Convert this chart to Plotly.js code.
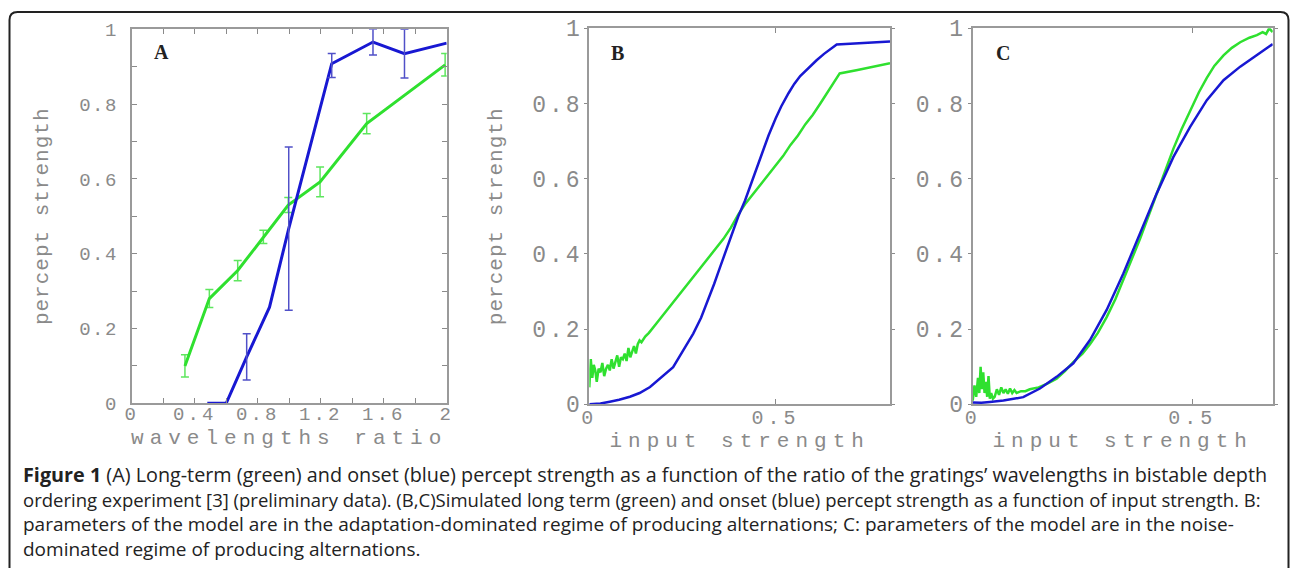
<!DOCTYPE html>
<html>
<head>
<meta charset="utf-8">
<script src="https://cdn.plot.ly/plotly-3.0.1.min.js"></script>
<style>
  html, body { margin: 0; padding: 0; background: #fff; }
  #chart { width: 1290px; height: 568px; }
  .xtick text { letter-spacing: 3px; }
  .ytick text { letter-spacing: 1.5px; }
  .y2tick text, .y3tick text { letter-spacing: 3px; }
  .x2tick text, .x3tick text { letter-spacing: 4px; }
  .g-xtitle text, .g-x2title text, .g-x3title text { letter-spacing: 6px; }
  .g-ytitle text, .g-y2title text { letter-spacing: 1px; }
</style>
</head>
<body>
<div id="chart"></div>
<script>
// ---------------- Panel A: wavelengths ratio (experiment) ----------------
const aGreenX   = [0.338, 0.493, 0.673, 0.836, 0.994, 1.196, 1.492, 1.99];
const aGreenY   = [0.100, 0.280, 0.355, 0.445, 0.530, 0.592, 0.748, 0.905];
const aGreenErr = [0.030, 0.024, 0.027, 0.018, 0.020, 0.040, 0.027, 0.030];

const aBlueX    = [0.48, 0.60, 0.730, 0.875, 0.997, 1.27, 1.532, 1.732, 2.0];
const aBlueY    = [0.0, 0.0, 0.124, 0.257, 0.467, 0.908, 0.966, 0.935, 0.963];
const aBlueErrX = [0.730, 0.997, 1.27, 1.532, 1.732];
const aBlueErrY = [0.124, 0.467, 0.903, 0.966, 0.935];
const aBlueErr  = [0.062, 0.218, 0.032, 0.035, 0.065];

const aXTicks  = [0, 0.2, 0.4, 0.6, 0.8, 1.0, 1.2, 1.4, 1.6, 1.8, 2.0];
const aXLabels = ["0", "", "0.4", "", "0.8", "", "1.2", "", "1.6", "", "2"];
const yTicksA  = [0, 0.1, 0.2, 0.3, 0.4, 0.5, 0.6, 0.7, 0.8, 0.9, 1.0];
const yLabelsA = ["0", "", "0.2", "", "0.4", "", "0.6", "", "0.8", "", "1"];

// ---------------- Panel B: adaptation-dominated ----------------
const bGreenX = [0, 0.004, 0.008, 0.012, 0.016, 0.02, 0.025, 0.03, 0.035, 0.04, 0.045, 0.05, 0.055, 0.06,
                 0.065, 0.07, 0.075, 0.08, 0.085, 0.09, 0.095, 0.10, 0.105, 0.11, 0.115, 0.12, 0.125, 0.13,
                 0.135, 0.14, 0.15, 0.16, 0.18, 0.20, 0.22, 0.24, 0.26, 0.28, 0.30, 0.32, 0.34, 0.36, 0.38,
                 0.40, 0.42, 0.44, 0.46, 0.48, 0.50, 0.52, 0.54, 0.56, 0.58, 0.60, 0.62, 0.64, 0.66, 0.672,
                 0.72, 0.76, 0.807];
const bGreenY = [0.045, 0.12, 0.07, 0.105, 0.09, 0.06, 0.095, 0.085, 0.11, 0.075, 0.095, 0.105, 0.09, 0.12,
                 0.095, 0.11, 0.13, 0.10, 0.125, 0.12, 0.135, 0.115, 0.15, 0.125, 0.14, 0.155, 0.135, 0.16,
                 0.17, 0.165, 0.18, 0.19, 0.215, 0.24, 0.265, 0.29, 0.315, 0.34, 0.365, 0.39, 0.415, 0.44, 0.47,
                 0.505, 0.535, 0.56, 0.585, 0.61, 0.635, 0.66, 0.69, 0.715, 0.745, 0.77, 0.80, 0.83, 0.86, 0.88,
                 0.889, 0.897, 0.907];
const bBlueX = [0, 0.03, 0.055, 0.08, 0.109, 0.135, 0.163, 0.19, 0.225, 0.25, 0.279, 0.30, 0.319, 0.335, 0.351,
                0.367, 0.382, 0.40, 0.418, 0.432, 0.445, 0.463, 0.481, 0.50, 0.515, 0.535, 0.55, 0.566, 0.59,
                0.61, 0.63, 0.655, 0.664, 0.70, 0.75, 0.807];
const bBlueY = [0, 0.002, 0.007, 0.012, 0.02, 0.03, 0.046, 0.068, 0.099, 0.14, 0.188, 0.23, 0.276, 0.32, 0.365,
                0.41, 0.453, 0.50, 0.542, 0.58, 0.615, 0.665, 0.715, 0.76, 0.792, 0.828, 0.852, 0.873, 0.897,
                0.915, 0.932, 0.95, 0.957, 0.959, 0.962, 0.965];

// ---------------- Panel C: noise-dominated ----------------
const cGreenX = [0, 0.004, 0.008, 0.012, 0.015, 0.018, 0.021, 0.024, 0.027, 0.030, 0.033, 0.036, 0.039, 0.042,
                 0.046, 0.05, 0.055, 0.06, 0.065, 0.07, 0.075, 0.08, 0.085, 0.09, 0.095, 0.10, 0.11, 0.12, 0.13,
                 0.15, 0.17, 0.191, 0.21, 0.229, 0.25, 0.267, 0.285, 0.305, 0.325, 0.343, 0.36, 0.381, 0.40,
                 0.419, 0.44, 0.457, 0.475, 0.495, 0.515, 0.533, 0.55, 0.571, 0.59, 0.609, 0.63, 0.647, 0.66,
                 0.668, 0.675, 0.683];
const cGreenY = [0.01, 0.05, 0.02, 0.07, 0.03, 0.10, 0.04, 0.085, 0.03, 0.06, 0.02, 0.075, 0.015, 0.03,
                 0.015, 0.02, 0.04, 0.025, 0.045, 0.03, 0.04, 0.028, 0.042, 0.03, 0.038, 0.03, 0.035, 0.035, 0.04,
                 0.045, 0.055, 0.068, 0.088, 0.112, 0.135, 0.16, 0.19, 0.232, 0.28, 0.33, 0.38, 0.44, 0.50,
                 0.56, 0.625, 0.68, 0.73, 0.78, 0.83, 0.868, 0.90, 0.928, 0.948, 0.963, 0.975, 0.982, 0.99,
                 0.985, 1.0, 0.99];
const cBlueX = [0, 0.02, 0.039, 0.07, 0.115, 0.153, 0.191, 0.229, 0.267, 0.305, 0.343, 0.381, 0.419, 0.457,
                0.495, 0.533, 0.571, 0.609, 0.647, 0.683];
const cBlueY = [0.005, 0.004, 0.006, 0.01, 0.019, 0.042, 0.073, 0.109, 0.171, 0.251, 0.348, 0.455, 0.561, 0.658,
                0.738, 0.809, 0.862, 0.898, 0.929, 0.958];

const bcXTicks  = [0, 0.5];
const bcXLabels = ["0", "0.5"];
const bcYTicks  = [0, 0.2, 0.4, 0.6, 0.8, 1.0];
const bcYLabels = ["0", "0.2", "0.4", "0.6", "0.8", "1"];

const panelLetters = ["A", "B", "C"];
const xTitles = ["wavelengths ratio", "input strength", "input strength"];
const yTitle  = "percept strength";
const captionLines = [
  "<b>Figure 1</b> (A) Long-term (green) and onset (blue) percept strength as a function of the ratio of the gratings’ wavelengths in bistable depth",
  "ordering experiment [3] (preliminary data). (B,C)Simulated long term (green) and onset (blue) percept strength as a function of input strength. B:",
  "parameters of the model are in the adaptation-dominated regime of producing alternations; C: parameters of the model are in the noise-",
  "dominated regime of producing alternations."
];

// ---------------- styling ----------------
const W = 1290, H = 568;
const px = v => v / W;
const py = v => 1 - v / H;
const GREEN = "#2fe02f";
const BLUE = "#1818d2";
const GRAY = "#8a8a8a";
const MONO = "Liberation Mono, Courier New, monospace";
const tickA = { family: MONO, size: 19, color: GRAY };
const tickBC = { family: MONO, size: 23, color: GRAY };
const tickBCx = { family: MONO, size: 20, color: GRAY };
const monoTitle = { family: MONO, size: 21, color: GRAY };

function axisBase(extra) {
  return Object.assign({
    showline: true, linecolor: "#9a9a9a", linewidth: 2, mirror: "ticks",
    ticks: "inside", ticklen: 5, tickcolor: "#8a8a8a", tickwidth: 1,
    showgrid: false, zeroline: false, automargin: false, fixedrange: true,
    tickmode: "array", tickfont: tickA
  }, extra);
}

const traces = [
  { x: aGreenX, y: aGreenY, xaxis: "x", yaxis: "y", mode: "lines", line: { color: GREEN, width: 3 },
    error_y: { type: "data", array: aGreenErr, visible: true, color: "#5ee65e", thickness: 1.5, width: 4 } },
  { x: aBlueX, y: aBlueY, xaxis: "x", yaxis: "y", mode: "lines", line: { color: BLUE, width: 3 } },
  { x: aBlueErrX, y: aBlueErrY, xaxis: "x", yaxis: "y", mode: "markers", marker: { size: 1, color: "rgba(0,0,0,0)" },
    error_y: { type: "data", array: aBlueErr, visible: true, color: "#5050c8", thickness: 1.5, width: 4 } },
  { x: bGreenX, y: bGreenY, xaxis: "x2", yaxis: "y2", mode: "lines", line: { color: GREEN, width: 2.5 } },
  { x: bBlueX, y: bBlueY, xaxis: "x2", yaxis: "y2", mode: "lines", line: { color: BLUE, width: 2.5 } },
  { x: cGreenX, y: cGreenY, xaxis: "x3", yaxis: "y3", mode: "lines", line: { color: GREEN, width: 2.5 } },
  { x: cBlueX, y: cBlueY, xaxis: "x3", yaxis: "y3", mode: "lines", line: { color: BLUE, width: 2.5 } }
];

const annotations = [];
const letterPos = [[161, 52], [617, 53], [1003, 53]];
panelLetters.forEach((t, i) => annotations.push({
  xref: "paper", yref: "paper", x: px(letterPos[i][0]), y: py(letterPos[i][1]),
  text: "<b>" + t + "</b>", showarrow: false, xanchor: "center", yanchor: "middle",
  font: { family: "Liberation Serif, Times New Roman, serif", size: 20, color: "#222" }
}));
const capY = [474, 499, 524, 549];
const capSize = [19.8, 18.5, 19, 19];
captionLines.forEach((t, i) => annotations.push({
  xref: "paper", yref: "paper", x: px(21), y: py(capY[i]), text: t, showarrow: false,
  xanchor: "left", yanchor: "middle", align: "left",
  font: { family: "Open Sans, Noto Sans, sans-serif", size: capSize[i], color: "#222" }
}));

const layout = {
  width: W, height: H, margin: { l: 0, r: 0, t: 0, b: 0 },
  paper_bgcolor: "#fff", plot_bgcolor: "#fff", showlegend: false,
  xaxis: axisBase({ domain: [px(131.7), px(446.7)], range: [0, 2], tickvals: aXTicks, ticktext: aXLabels, anchor: "y",
    ticklabelstandoff: -8, title: { text: xTitles[0], font: monoTitle, standoff: 4 } }),
  yaxis: axisBase({ domain: [py(403.3), py(29.3)], range: [0, 1], tickvals: yTicksA, ticktext: yLabelsA, anchor: "x",
    ticklabelstandoff: 8, title: { text: yTitle, font: monoTitle, standoff: 25 } }),
  xaxis2: axisBase({ domain: [px(589.3), px(890)], range: [0, 0.807], tickvals: bcXTicks, ticktext: bcXLabels, anchor: "y2",
    tickfont: tickBCx, ticklabelstandoff: -6, title: { text: xTitles[1], font: monoTitle, standoff: 0 } }),
  yaxis2: axisBase({ domain: [py(404.3), py(28.3)], range: [0, 1], tickvals: bcYTicks, ticktext: bcYLabels, anchor: "x2",
    tickfont: tickBC, ticks: "outside", ticklen: 3, ticklabelstandoff: -3,
    title: { text: yTitle, font: monoTitle, standoff: 24 } }),
  xaxis3: axisBase({ domain: [px(972.7), px(1272.7)], range: [0, 0.683], tickvals: bcXTicks, ticktext: bcXLabels, anchor: "y3",
    tickfont: tickBCx, ticklabelstandoff: -6, title: { text: xTitles[2], font: monoTitle, standoff: 0 } }),
  yaxis3: axisBase({ domain: [py(404.3), py(28.3)], range: [0, 1], tickvals: bcYTicks, ticktext: bcYLabels, anchor: "x3",
    tickfont: tickBC, ticks: "outside", ticklen: 3, ticklabelstandoff: -3 }),
  annotations: annotations,
  shapes: [{
    type: "path", xref: "paper", yref: "paper", layer: "below",
    path: "M " + px(9.5) + "," + py(575) + " L " + px(9.5) + "," + py(20) +
          " Q " + px(9.5) + "," + py(12) + " " + px(17.5) + "," + py(12) +
          " L " + px(1280.5) + "," + py(12) +
          " Q " + px(1288.5) + "," + py(12) + " " + px(1288.5) + "," + py(20) +
          " L " + px(1288.5) + "," + py(575),
    line: { color: "#222", width: 2 }
  }]
};

Plotly.newPlot("chart", traces, layout, { staticPlot: true, displayModeBar: false });
</script>
</body>
</html>
